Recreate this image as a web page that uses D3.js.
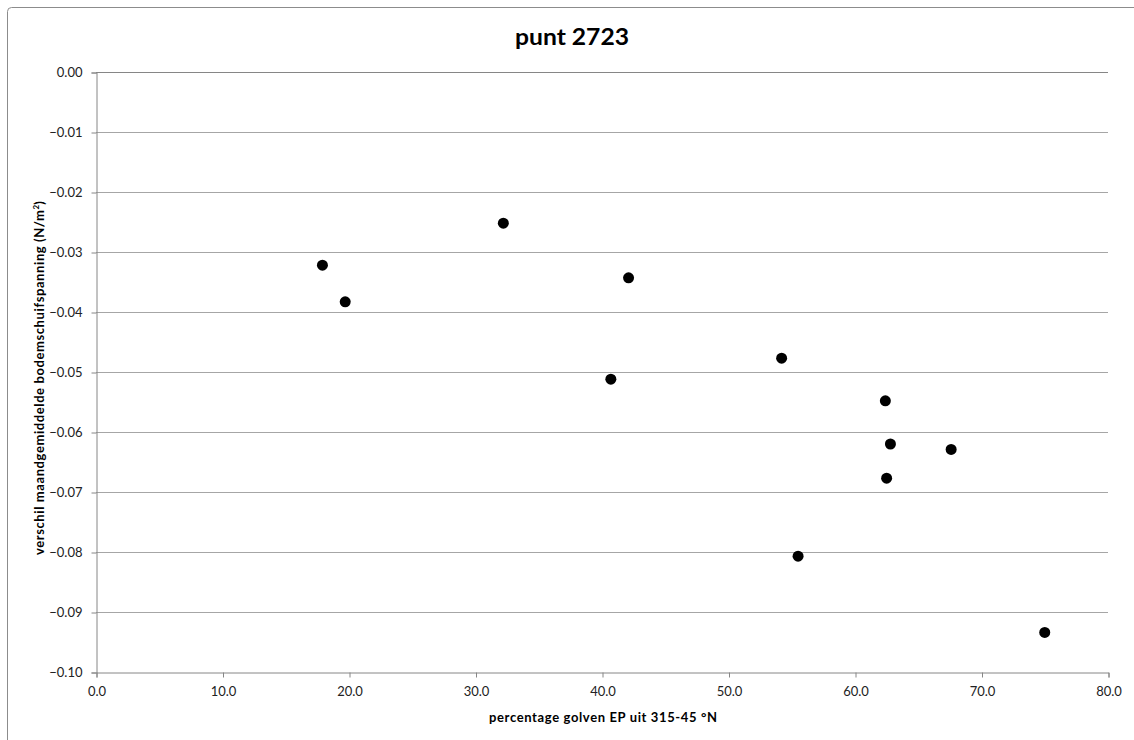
<!DOCTYPE html>
<html>
<head>
<meta charset="utf-8">
<script src="https://cdn.jsdelivr.net/npm/d3@7"></script>
<style>
  body { margin: 0; background: #fff; }
  svg text { font-family: Lato, "Open Sans", sans-serif; }
</style>
</head>
<body>
<div id="chart"></div>
<script>
// percentage golven EP uit 315-45 °N
const pctWaves = [17.9, 19.7, 32.2, 42.1, 40.7, 54.2, 62.4, 62.8, 62.5, 67.6, 55.5, 75.0];
// verschil maandgemiddelde bodemschuifspanning (N/m2)
const stressDiff = [-0.0322, -0.0383, -0.0252, -0.0343, -0.0512, -0.0477, -0.0548, -0.0620, -0.0677, -0.0629, -0.0807, -0.0934];
const xTicks = [0, 10, 20, 30, 40, 50, 60, 70, 80];
const yTicks = [0, -0.01, -0.02, -0.03, -0.04, -0.05, -0.06, -0.07, -0.08, -0.09, -0.10];

const width = 1134, height = 740;
const margin = {left: 96, right: 1134 - 1108, top: 72, bottom: 740 - 672};

const svg = d3.select("#chart").append("svg")
    .attr("width", width)
    .attr("height", height);

// chart area frame (only top/left edges visible)
svg.append("rect")
    .attr("x", 7.5).attr("y", 7.5)
    .attr("width", 1140).attr("height", 750)
    .attr("rx", 4)
    .attr("fill", "none")
    .attr("stroke", "#8c8c8c");

const x = d3.scaleLinear().domain([0, 80]).range([margin.left, width - margin.right]);
const y = d3.scaleLinear().domain([-0.10, 0]).range([height - margin.bottom, margin.top]);

// gridlines
svg.append("g")
    .selectAll("line")
    .data(yTicks.filter(d => d > -0.1 && d < 0))
    .enter().append("line")
    .attr("x1", x(0)).attr("x2", x(80))
    .attr("y1", d => Math.round(y(d)) + 0.5)
    .attr("y2", d => Math.round(y(d)) + 0.5)
    .attr("stroke", "#a6a6a6");

const yAxis = svg.append("g")
    .attr("transform", `translate(${x(0) + 0.5},0.5)`)
    .call(d3.axisLeft(y).tickValues(yTicks).tickSize(5).tickPadding(9).tickFormat(d3.format(".2f")));

const xAxis = svg.append("g")
    .attr("transform", `translate(0.5,${y(-0.10) + 0.5})`)
    .call(d3.axisBottom(x).tickValues(xTicks).tickSize(5).tickPadding(9).tickFormat(d3.format(".1f")));

[yAxis, xAxis].forEach(ax => {
  ax.select(".domain").attr("stroke", "#868686");
  ax.selectAll(".tick line").attr("stroke", "#868686");
  ax.selectAll(".tick text").attr("fill", "#222").style("font-size", "13px");
});

// top line at 0.00 spans the full width
svg.append("line")
    .attr("x1", x(0)).attr("x2", x(80))
    .attr("y1", y(0) + 0.5).attr("y2", y(0) + 0.5)
    .attr("stroke", "#868686");

// points
svg.append("g")
    .selectAll("circle")
    .data(pctWaves.map((v, i) => [v, stressDiff[i]]))
    .enter().append("circle")
    .attr("cx", d => x(d[0]))
    .attr("cy", d => y(d[1]))
    .attr("r", 5.5)
    .attr("fill", "#000");

// title
svg.append("text")
    .attr("x", 515).attr("y", 45)
    .attr("textLength", 114)
    .attr("lengthAdjust", "spacingAndGlyphs")
    .style("font-size", "23px")
    .style("font-weight", "bold")
    .attr("fill", "#000")
    .text("punt 2723");

// x axis title
svg.append("text")
    .attr("x", 489).attr("y", 722)
    .attr("textLength", 228)
    .attr("lengthAdjust", "spacing")
    .style("font-size", "13px")
    .style("font-weight", "bold")
    .text("percentage golven EP uit 315-45 °N");

// y axis title
const yt = svg.append("text")
    .attr("transform", "translate(44,555) rotate(-90)")
    .style("font-size", "13px")
    .style("font-weight", "bold");
yt.append("tspan")
    .attr("textLength", 345)
    .attr("lengthAdjust", "spacing")
    .text("verschil maandgemiddelde  bodemschuifspanning  (N/m");
yt.append("tspan").attr("dy", -5).style("font-size", "8px").text("2");
yt.append("tspan").attr("dy", 5).text(")");
</script>
</body>
</html>
